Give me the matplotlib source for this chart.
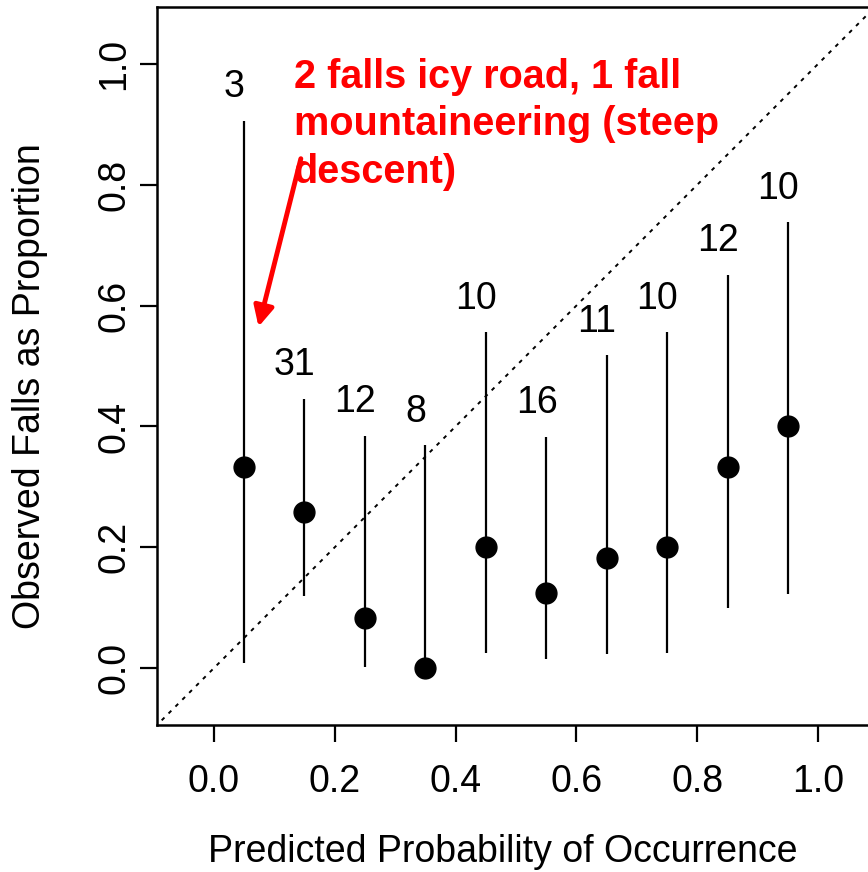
import matplotlib
matplotlib.use("Agg")
import matplotlib.pyplot as plt

# calibration bins: predicted probability midpoints, bin sizes, observed proportions
pred = [0.05, 0.15, 0.25, 0.35, 0.45, 0.55, 0.65, 0.75, 0.85, 0.95]
counts = [3, 31, 12, 8, 10, 16, 11, 10, 12, 10]
observed = [0.333, 0.258, 0.083, 0.0, 0.2, 0.125, 0.182, 0.2, 0.333, 0.4]
ci_low = [0.008, 0.119, 0.002, 0.0, 0.025, 0.016, 0.023, 0.025, 0.099, 0.122]
ci_high = [0.906, 0.446, 0.385, 0.369, 0.556, 0.383, 0.518, 0.556, 0.651, 0.738]
ticks = [0.0, 0.2, 0.4, 0.6, 0.8, 1.0]
note = "2 falls icy road, 1 fall\nmountaineering (steep\ndescent)"

plt.rcParams["font.family"] = ["Liberation Sans", "DejaVu Sans"]

W, H = 868, 872
fig = plt.figure(figsize=(W / 100, H / 100), dpi=100)
ax = fig.add_axes([157 / W, 1 - 725 / H, (875 - 157) / W, (725 - 7) / H])
ax.set_xlim(-0.094, 1.094)
ax.set_ylim(-0.094, 1.094)

# y = x reference line
ax.plot([-0.2, 1.2], [-0.2, 1.2], color="black", lw=1.4, linestyle=(0, (2, 3)))

ax.vlines(pred, ci_low, ci_high, color="black", lw=1.6)
ax.plot(pred, observed, "o", color="black", markersize=15)

for x, hi, n in zip(pred, ci_high, counts):
    ax.text(x - 0.016, hi + 0.055, str(n), ha="center", va="center", fontsize=27)

ax.text(0.132, 1.01, note, color="red", fontweight="bold", fontsize=28.5,
        ha="left", va="top", linespacing=1.32)
ax.annotate("", xy=(0.074, 0.565), xytext=(0.144, 0.843),
            arrowprops=dict(arrowstyle="-|>", color="red", lw=3.5,
                            mutation_scale=30, shrinkA=0, shrinkB=0))

ax.set_xticks(ticks)
ax.set_yticks(ticks)
ax.set_xticklabels([f"{t:.1f}" for t in ticks], fontsize=27)
ax.set_yticklabels([f"{t:.1f}" for t in ticks], fontsize=27, rotation=90, va="center")
ax.tick_params(length=12, width=1.6)
ax.tick_params(axis="x", pad=16)
ax.tick_params(axis="y", pad=6)
for s in ax.spines.values():
    s.set_linewidth(1.8)

fig.text(503 / W, 1 - 852 / H, "Predicted Probability of Occurrence",
         ha="center", va="center", fontsize=27)
fig.text(30 / W, 1 - 386 / H, "Observed Falls as Proportion",
         ha="center", va="center", rotation=90, fontsize=27)

fig.savefig("out.png", dpi=100)
